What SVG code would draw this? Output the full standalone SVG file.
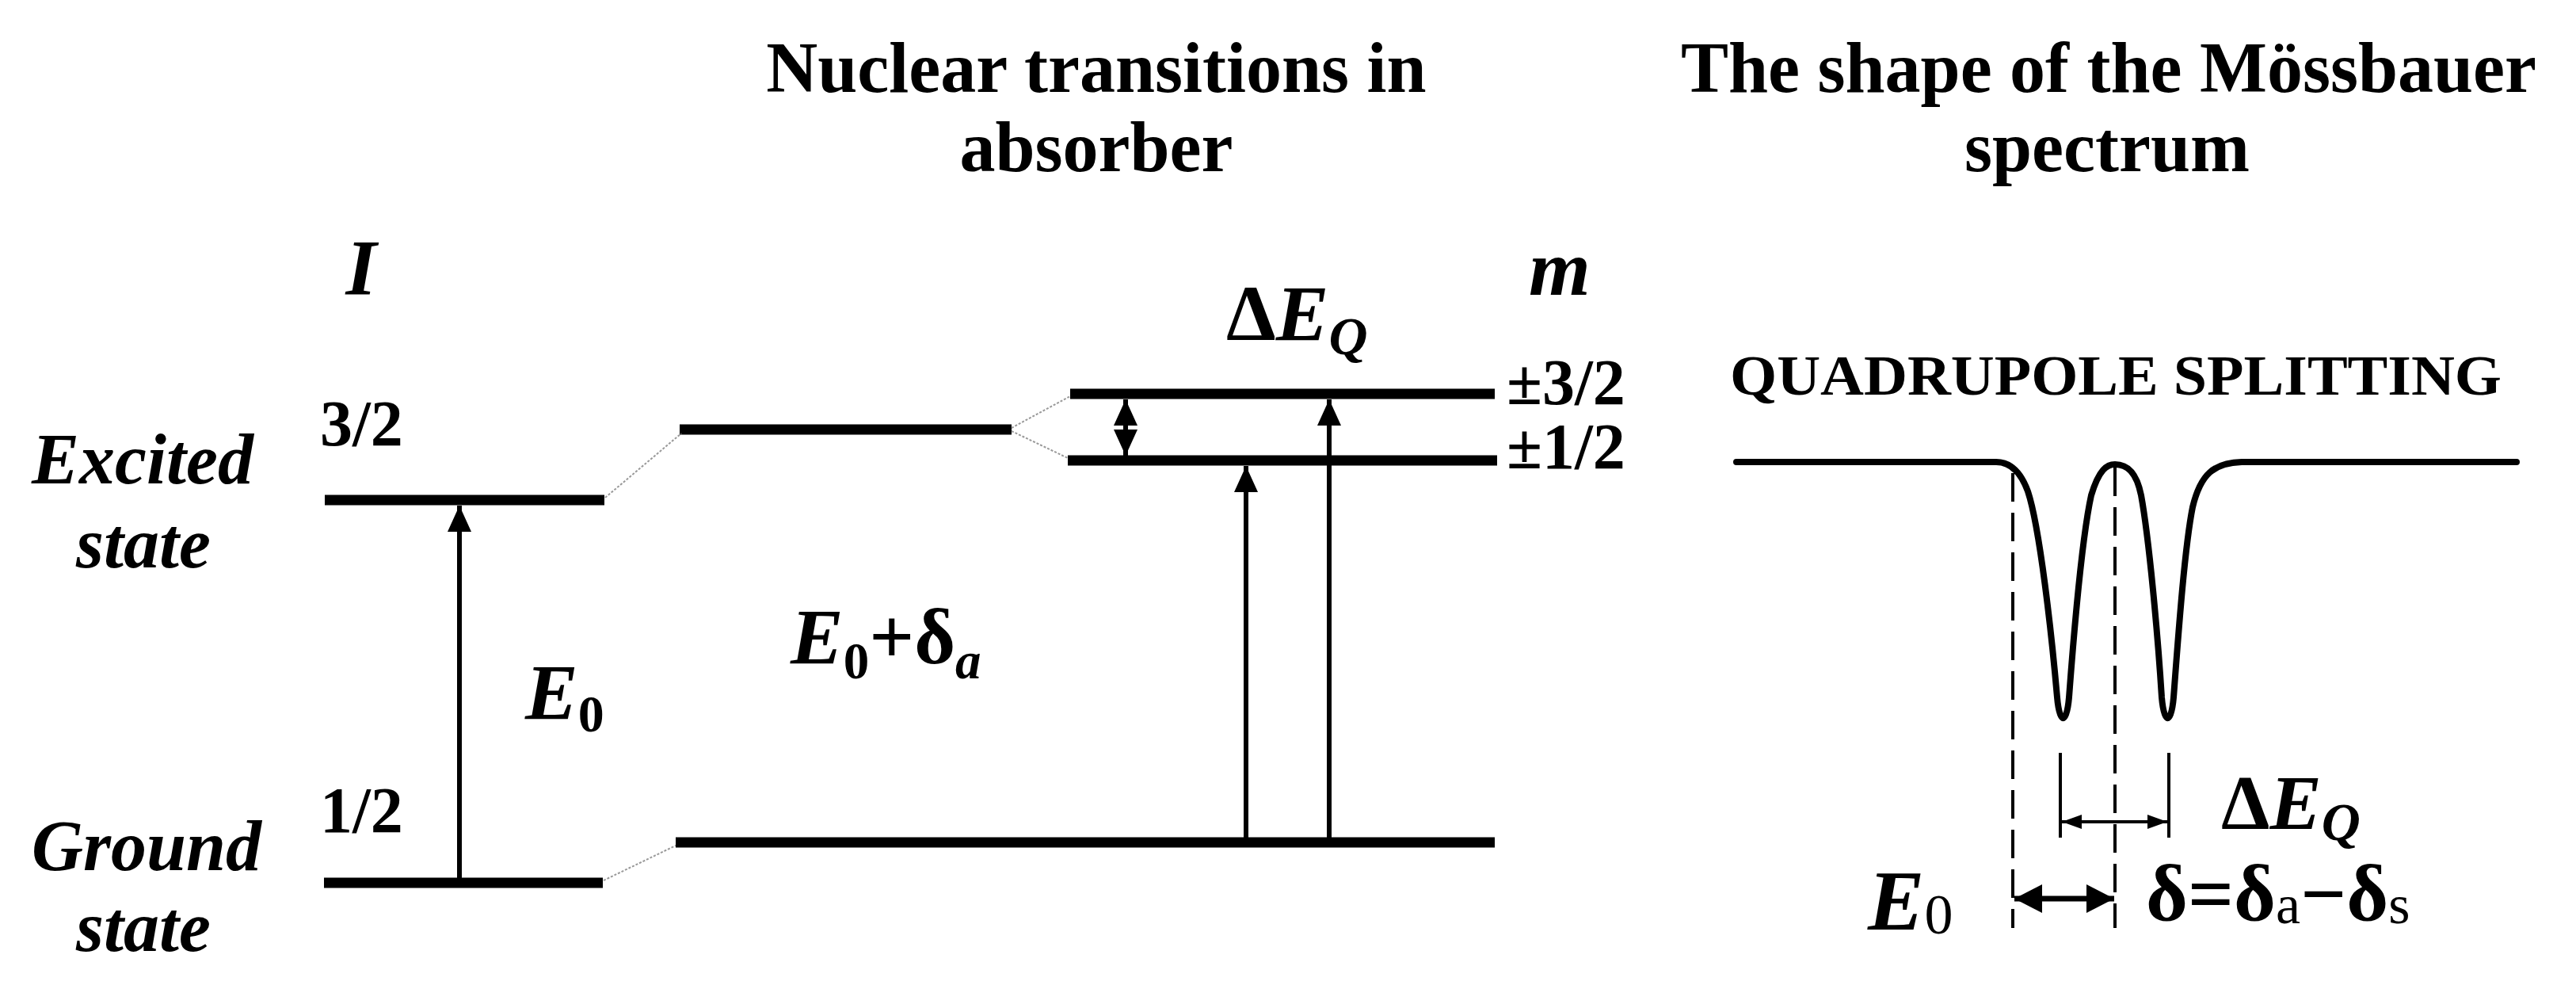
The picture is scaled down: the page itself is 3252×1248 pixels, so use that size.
<svg xmlns="http://www.w3.org/2000/svg" width="3252" height="1248" viewBox="0 0 3252 1248">
<style>
text{font-family:"Liberation Serif","Times New Roman",serif;fill:#000}
.t{font-weight:bold;font-size:90px;text-anchor:middle}
.bi{font-weight:bold;font-style:italic}
.b{font-weight:bold}
.lvl{stroke:#000;stroke-width:13;fill:none}
.dot{stroke:#999;stroke-width:2;stroke-dasharray:3 2;fill:none}
.arr{stroke:#000;stroke-width:6;fill:none}
.dash{stroke:#000;stroke-width:4;stroke-dasharray:36 14;fill:none}
</style>
<defs>
<marker id="ah" markerUnits="userSpaceOnUse" markerWidth="34" markerHeight="30" refX="33" refY="15" orient="auto-start-reverse"><path d="M0,0 L33,15 L0,30 Z" fill="#000"/></marker>
<marker id="ahs" markerUnits="userSpaceOnUse" markerWidth="26" markerHeight="18" refX="25" refY="9" orient="auto-start-reverse"><path d="M0,0 L25,9 L0,18 Z" fill="#000"/></marker>
<marker id="ahb" markerUnits="userSpaceOnUse" markerWidth="36" markerHeight="36" refX="35" refY="18" orient="auto-start-reverse"><path d="M0,0 L35,18 L0,36 Z" fill="#000"/></marker>
</defs>
<rect width="3252" height="1248" fill="#fff"/>

<g id="titles">
<text class="t" x="1384" y="116">Nuclear transitions in</text>
<text class="t" x="1384" y="216">absorber</text>
<text class="t" x="2662" y="116">The shape of the Mössbauer</text>
<text class="t" x="2660" y="216">spectrum</text>
</g>

<g id="source-levels">
<text class="bi" x="456" y="371" font-size="100" text-anchor="middle">I</text>
<text class="bi" x="180" y="610" font-size="90" text-anchor="middle">Excited</text>
<text class="bi" x="181" y="716" font-size="90" text-anchor="middle">state</text>
<text class="bi" x="185" y="1098" font-size="90" text-anchor="middle">Ground</text>
<text class="bi" x="181" y="1200" font-size="90" text-anchor="middle">state</text>
<text class="b" x="404" y="562" font-size="82">3/2</text>
<text class="b" x="404" y="1050" font-size="82">1/2</text>
<line class="lvl" x1="410" y1="631" x2="763" y2="631"/>
<line class="lvl" x1="409" y1="1114" x2="761" y2="1114"/>
<text x="663" y="907"><tspan class="bi" font-size="100">E</tspan><tspan class="b" font-size="66" dy="16">0</tspan></text>
</g>

<g id="absorber-levels">
<line class="lvl" x1="858" y1="542" x2="1277" y2="542"/>
<line class="lvl" x1="1351" y1="497" x2="1887" y2="497"/>
<line class="lvl" x1="1348" y1="581" x2="1890" y2="581"/>
<line class="lvl" x1="853" y1="1063" x2="1887" y2="1063"/>
<text x="998" y="837"><tspan class="bi" font-size="100">E</tspan><tspan class="b" font-size="65" dy="19">0</tspan><tspan class="b" font-size="100" dy="-19">+δ</tspan><tspan class="bi" font-size="65" dy="19">a</tspan></text>
<text x="1548" y="429"><tspan class="b" font-size="100">Δ</tspan><tspan class="bi" font-size="100">E</tspan><tspan class="bi" font-size="68" dy="18">Q</tspan></text>
<text class="bi" x="1930" y="372" font-size="100">m</text>
<text class="b" x="1902" y="510" font-size="82">±3/2</text>
<text class="b" x="1902" y="591" font-size="82">±1/2</text>
</g>

<g id="connectors">
<line class="dot" x1="764" y1="628" x2="860" y2="547"/>
<line class="dot" x1="762" y1="1111" x2="853" y2="1067"/>
<line class="dot" x1="1277" y1="540" x2="1351" y2="500"/>
<line class="dot" x1="1277" y1="544" x2="1348" y2="578"/>
<line class="arr" x1="580" y1="1108" x2="580" y2="638" marker-end="url(#ah)"/>
<line class="arr" x1="1421" y1="504" x2="1421" y2="575" marker-start="url(#ah)" marker-end="url(#ah)"/>
<line class="arr" x1="1573" y1="1058" x2="1573" y2="588" marker-end="url(#ah)"/>
<line class="arr" x1="1678" y1="1058" x2="1678" y2="504" marker-end="url(#ah)"/>
</g>

<g id="spectrum">
<text class="b" x="2184" y="498" font-size="71" textLength="974" lengthAdjust="spacingAndGlyphs">QUADRUPOLE SPLITTING</text>
<path d="M2192 583 L2520 583 C2540 583 2552 598 2560 620 C2575 665 2590 800 2597 880 C2600 915 2609 915 2612 880 C2618 800 2628 680 2640 625 C2650 592 2660 586 2670 586 C2685 586 2697 595 2703 625 C2713 680 2724 800 2729 880 C2732 915 2741 915 2744 880 C2750 800 2758 690 2768 640 C2778 598 2795 584 2830 583 L3177 583" fill="none" stroke="#000" stroke-width="8" stroke-linejoin="round" stroke-linecap="round"/>
<line class="dash" x1="2541" y1="597" x2="2541" y2="1171"/>
<line class="dash" x1="2670" y1="590" x2="2670" y2="1171"/>
<line x1="2601" y1="950" x2="2601" y2="1057" stroke="#000" stroke-width="4"/>
<line x1="2738" y1="950" x2="2738" y2="1057" stroke="#000" stroke-width="4"/>
<line x1="2603" y1="1037" x2="2736" y2="1037" stroke="#000" stroke-width="4" marker-start="url(#ahs)" marker-end="url(#ahs)"/>
<line x1="2543" y1="1134" x2="2669" y2="1134" stroke="#000" stroke-width="7" marker-start="url(#ahb)" marker-end="url(#ahb)"/>
<text x="2804" y="1046"><tspan class="b" font-size="98">Δ</tspan><tspan class="bi" font-size="98">E</tspan><tspan class="bi" font-size="68" dy="14">Q</tspan></text>
<text x="2358" y="1173"><tspan class="bi" font-size="107">E</tspan><tspan font-size="72" dy="5">0</tspan></text>
<text x="2709" y="1162"><tspan class="b" font-size="102">δ=δ</tspan><tspan font-size="70" dy="3">a</tspan><tspan class="b" font-size="102" dy="-3">−δ</tspan><tspan font-size="70" dy="3">s</tspan></text>
</g>
</svg>
